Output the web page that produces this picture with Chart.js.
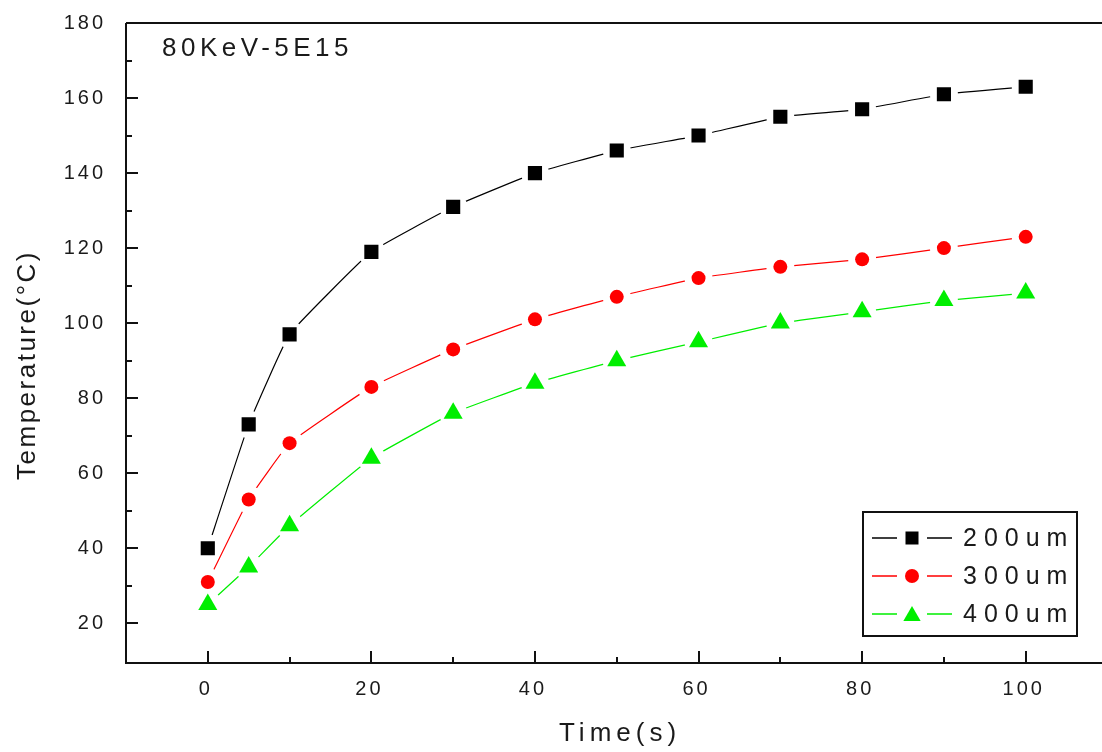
<!DOCTYPE html>
<html>
<head>
<meta charset="utf-8">
<script src="https://cdn.jsdelivr.net/npm/chart.js@4/dist/chart.umd.min.js"></script>
<style>
    html, body { margin: 0; padding: 0; background: #fff; overflow: hidden; }
    #wrap { width: 1140px; height: 752px; }
</style>
</head>
<body>
<div id="wrap"><canvas id="tempChart" width="1140" height="752"></canvas></div>
<script>
/* ============================================
   Temperature vs time, 80KeV-5E15
============================================ */

// Data
const timeValues = [0, 5, 10, 20, 30, 40, 50, 60, 70, 80, 90, 100];
const temp200um = [40, 73, 97, 119, 131, 140, 146, 150, 155, 157, 161, 163];
const temp300um = [31, 53, 68, 83, 93, 101, 107, 112, 115, 117, 120, 123];
const temp400um = [25, 35, 46, 64, 76, 84, 90, 95, 100, 103, 106, 108];
const seriesLabels = ['200um', '300um', '400um'];

// Axis ticks
const xMajorTicks = [0, 20, 40, 60, 80, 100];
const xMinorTicks = [10, 30, 50, 70, 90];
const yMajorTicks = [20, 40, 60, 80, 100, 120, 140, 160, 180];
const yMinorTicks = [30, 50, 70, 90, 110, 130, 150, 170];

const chartTitle = '80KeV-5E15';
const xTitle = 'Time(s)';
const yTitle = 'Temperature(°C)';

const FONT = '"Liberation Sans", Arial, sans-serif';
const INK = '#1a1a1a';

// Wanted plot frame (page pixels)
const AREA_TOP = 23;
const AREA_BOTTOM = 663;
const AREA_LEFT = 126;
const AREA_RIGHT = 1107.5;

function toPoints(values) {
    return timeValues.map((t, i) => ({ x: t, y: values[i] }));
}

/**
 * Cut a gap in each connecting line around its own points (Origin look)
 */
const lineGaps = {
    id: 'lineGaps',
    beforeDatasetDraw(chart, args) {
        const ds = chart.data.datasets[args.index];
        if (!ds.gapRadius) return;
        const ctx = chart.ctx;
        ctx.save();
        ctx.beginPath();
        ctx.rect(0, 0, chart.width, chart.height);
        args.meta.data.forEach(p => {
            ctx.moveTo(p.x + ds.gapRadius, p.y);
            ctx.arc(p.x, p.y, ds.gapRadius, 0, Math.PI * 2, true);
        });
        ctx.clip('evenodd');
    },
    afterDatasetDraw(chart, args) {
        const ds = chart.data.datasets[args.index];
        if (!ds.gapRadius) return;
        chart.ctx.restore();
    }
};

/**
 * Origin-style axes: inward ticks, frame lines, labels
 */
const originAxes = {
    id: 'originAxes',
    beforeDatasetsDraw(chart) {
        const { ctx, chartArea: a, scales: { x, y } } = chart;
        ctx.save();
        ctx.strokeStyle = '#111';
        ctx.lineWidth = 2;
        ctx.beginPath();
        ctx.moveTo(a.left, a.top);
        ctx.lineTo(a.right, a.top);
        ctx.moveTo(a.left, a.top);
        ctx.lineTo(a.left, a.bottom);
        ctx.lineTo(a.right, a.bottom);

        xMajorTicks.forEach(v => {
            const px = Math.round(x.getPixelForValue(v));
            ctx.moveTo(px, a.bottom);
            ctx.lineTo(px, a.bottom - 12);
        });
        xMinorTicks.forEach(v => {
            const px = Math.round(x.getPixelForValue(v));
            ctx.moveTo(px, a.bottom);
            ctx.lineTo(px, a.bottom - 6);
        });
        yMajorTicks.forEach(v => {
            const py = Math.round(y.getPixelForValue(v));
            ctx.moveTo(a.left, py);
            ctx.lineTo(a.left + 12, py);
        });
        yMinorTicks.forEach(v => {
            const py = Math.round(y.getPixelForValue(v));
            ctx.moveTo(a.left, py);
            ctx.lineTo(a.left + 6, py);
        });
        ctx.stroke();

        // Tick labels
        ctx.fillStyle = INK;
        ctx.font = '20px ' + FONT;
        ctx.letterSpacing = '3px';
        ctx.textBaseline = 'middle';
        ctx.textAlign = 'center';
        xMajorTicks.forEach(v => {
            ctx.fillText(String(v), x.getPixelForValue(v) - 2, a.bottom + 26);
        });
        ctx.textAlign = 'right';
        yMajorTicks.forEach(v => {
            ctx.fillText(String(v), a.left - 20, y.getPixelForValue(v));
        });
        ctx.restore();
    },
    afterDraw(chart) {
        const { ctx } = chart;
        ctx.save();
        ctx.fillStyle = INK;
        ctx.textBaseline = 'middle';

        // Annotation
        ctx.font = '26px ' + FONT;
        ctx.letterSpacing = '4.5px';
        ctx.textAlign = 'left';
        ctx.fillText(chartTitle, 162, 49);

        // X title
        ctx.letterSpacing = '5px';
        ctx.textAlign = 'center';
        ctx.fillText(xTitle, 620, 734);

        // Y title
        ctx.save();
        ctx.translate(28, 365);
        ctx.rotate(-Math.PI / 2);
        ctx.letterSpacing = '2.5px';
        ctx.font = '26px ' + FONT;
        ctx.fillText(yTitle, 0, 0);
        ctx.restore();

        // Legend box
        ctx.lineWidth = 2;
        ctx.strokeStyle = '#111';
        ctx.strokeRect(863, 512, 214, 124);
        ctx.font = '25px ' + FONT;
        ctx.letterSpacing = '7px';
        ctx.textAlign = 'left';
        chart.data.datasets.filter(ds => ds.inLegend).forEach((ds, i) => {
            const rowY = 538 + i * 38;
            ctx.strokeStyle = ds.pointBackgroundColor;
            ctx.lineWidth = 1.5;
            ctx.beginPath();
            ctx.moveTo(872, rowY);
            ctx.lineTo(897, rowY);
            ctx.moveTo(927, rowY);
            ctx.lineTo(952, rowY);
            ctx.stroke();
            ctx.fillStyle = ds.pointBackgroundColor;
            Chart.helpers.drawPoint(ctx, {
                pointStyle: ds.pointStyle,
                radius: ds.legendRadius,
                borderWidth: 0,
                rotation: 0
            }, 912, rowY + (ds.pointStyle === 'triangle' ? 2 : 0));
            ctx.fillStyle = INK;
            ctx.fillText(ds.label, 963, rowY + 1);
        });
        ctx.restore();
    }
};

// Connecting line only, drawn first
function makeLine(values, color) {
    return {
        data: toPoints(values),
        borderColor: color,
        borderWidth: 1.2,
        tension: 0.1,
        pointRadius: 0,
        gapRadius: 14,
        order: 2,
        fill: false
    };
}

// Markers only, drawn on top
function makeMarkers(label, values, color, style, radius, legendRadius) {
    return {
        label: label,
        data: toPoints(values),
        showLine: false,
        pointStyle: style,
        pointRadius: radius,
        pointBackgroundColor: color,
        pointBorderColor: color,
        pointBorderWidth: 0,
        legendRadius: legendRadius,
        inLegend: true,
        order: 1
    };
}

const ctx = document.getElementById('tempChart');
const tempChart = new Chart(ctx, {
    type: 'line',
    data: {
        datasets: [
            makeLine(temp200um, '#000000'),
            makeLine(temp300um, '#ff0000'),
            makeLine(temp400um, '#00ee00'),
            makeMarkers(seriesLabels[0], temp200um, '#000000', 'rect', 10, 9.2),
            makeMarkers(seriesLabels[1], temp300um, '#ff0000', 'circle', 7, 7),
            makeMarkers(seriesLabels[2], temp400um, '#00ee00', 'triangle', 11, 10)
        ]
    },
    options: {
        responsive: false,
        animation: false,
        devicePixelRatio: 1,
        layout: {
            autoPadding: false,
            padding: { left: 0, top: AREA_TOP, right: 30, bottom: 0 }
        },
        plugins: {
            legend: { display: false },
            tooltip: { enabled: false }
        },
        scales: {
            x: {
                type: 'linear',
                min: -10,
                max: 110,
                grid: { display: false },
                border: { display: false },
                ticks: { display: false },
                afterFit: s => { s.height = 752 - AREA_BOTTOM; }
            },
            y: {
                type: 'linear',
                min: 9.4,
                max: 180,
                grid: { display: false },
                border: { display: false },
                ticks: { display: false },
                afterFit: s => { s.width = AREA_LEFT; }
            }
        }
    },
    plugins: [lineGaps, originAxes]
});

// Nudge the padding a few times so the frame lands where the reference has it
let padTop = AREA_TOP;
let padRight = 30;
for (let i = 0; i < 3; i++) {
    const area = tempChart.chartArea;
    padTop += AREA_TOP - area.top;
    padRight += area.right - AREA_RIGHT;
    tempChart.options.layout.padding = { left: 0, top: padTop, right: padRight, bottom: 0 };
    tempChart.update();
}
</script>
</body>
</html>
